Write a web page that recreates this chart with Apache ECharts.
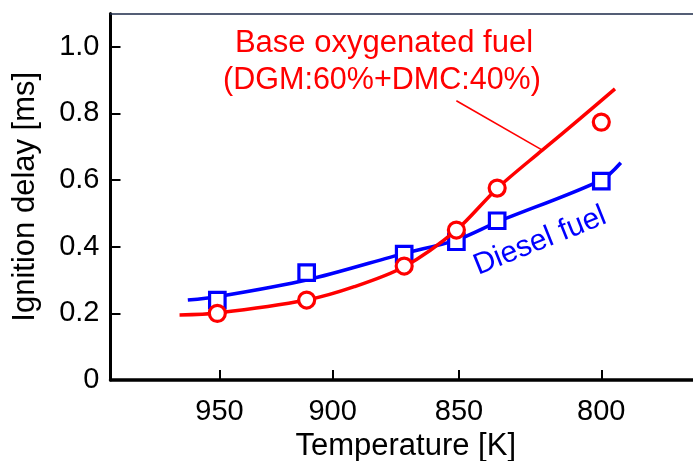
<!DOCTYPE html>
<html>
<head>
<meta charset="utf-8">
<script src="https://cdn.jsdelivr.net/npm/echarts@6/dist/echarts.min.js"></script>
<style>
  html, body { margin: 0; padding: 0; background: #fff; }
  #chart { width: 693px; height: 461px; }
</style>
</head>
<body>
<div id="chart"></div>
<script>
// Temperature ticks shown on the (reciprocal) temperature axis
const tempTicks = [950, 900, 850, 800];
const delayTicks = [0, 0.2, 0.4, 0.6, 0.8, 1.0];

// Measured points: Base oxygenated fuel (DGM 60% + DMC 40%)
const oxyTemps = [951, 911, 871, 851, 836, 800];
const oxyDelay = [0.200, 0.240, 0.342, 0.450, 0.576, 0.774];

// Measured points: Diesel fuel
const dieselTemps = [951, 911, 871, 851, 836, 800];
const dieselDelay = [0.240, 0.322, 0.378, 0.415, 0.478, 0.597];

// Fitted trend curve: oxygenated fuel
const oxyCurveTemps = [969, 951, 911, 891, 871, 851, 836, 820, 807, 795.5];
const oxyCurveDelay = [0.195, 0.201, 0.240, 0.280, 0.340, 0.450, 0.575, 0.690, 0.785, 0.874];

// Fitted trend curve: diesel fuel
const dieselCurveTemps = [965, 951, 911, 871, 851, 836, 800, 793.6];
const dieselCurveDelay = [0.240, 0.250, 0.300, 0.380, 0.420, 0.474, 0.600, 0.652];

// Leader line from the annotation to the oxygenated-fuel curve
const leaderTemps = [851, 820];
const leaderDelay = [0.838, 0.690];

const RED = '#ff0000';
const BLUE = '#0000ff';
const FONT = '"Liberation Sans", Arial, sans-serif';

// The horizontal axis is plotted as 1000/T, labelled in kelvin
const inv = t => 1000 / t;
const pairs = (ts, vs) => ts.map((t, i) => [inv(t), vs[i]]);

const xMin = 0.9963, xMax = 1.2974;

const chart = echarts.init(document.getElementById('chart'), null, { renderer: 'canvas' });

chart.setOption({
  animation: false,
  backgroundColor: '#ffffff',
  textStyle: { fontFamily: FONT },
  grid: { left: 110.5, right: 0, top: 13.5, bottom: 81, outerBoundsMode: 'none', containLabel: false },
  xAxis: [{
    type: 'value',
    min: xMin, max: xMax,
    name: 'Temperature [K]',
    nameLocation: 'middle',
    nameGap: 49,
    nameTextStyle: { fontSize: 31, color: '#000', fontFamily: FONT, padding: [0, 0, 0, 8] },
    axisLine: { show: true, lineStyle: { color: '#000', width: 3.5 } },
    axisTick: { show: true, inside: true, length: 10, lineStyle: { color: '#000', width: 2 },
                customValues: tempTicks.map(inv) },
    axisLabel: { show: true, fontSize: 29, color: '#000', margin: 17, fontFamily: FONT,
                 customValues: tempTicks.map(inv),
                 formatter: v => String(Math.round(1000 / v)) },
    splitLine: { show: false }
  }, {
    type: 'value',
    position: 'top',
    min: xMin, max: xMax,
    axisLine: { show: true, onZero: false, lineStyle: { color: '#1c2a48', width: 1.5 } },
    axisTick: { show: false },
    axisLabel: { show: false },
    splitLine: { show: false }
  }],
  yAxis: {
    type: 'value',
    min: 0, max: 1.1,
    name: 'Ignition delay [ms]',
    nameLocation: 'middle',
    nameGap: 70,
    nameRotate: 90,
    nameTextStyle: { fontSize: 31, color: '#000', fontFamily: FONT },
    axisLine: { show: true, lineStyle: { color: '#000', width: 3 } },
    axisTick: { show: true, inside: true, length: 10, lineStyle: { color: '#000', width: 2 },
                customValues: delayTicks },
    axisLabel: { show: true, fontSize: 29, color: '#000', margin: 11, fontFamily: FONT,
                 customValues: delayTicks,
                 formatter: v => (v === 0 ? '0' : v.toFixed(1)) },
    splitLine: { show: false }
  },
  series: [
    {
      name: 'Diesel fuel curve',
      type: 'line',
      data: pairs(dieselCurveTemps, dieselCurveDelay),
      smooth: 0.3,
      symbol: 'none',
      lineStyle: { color: BLUE, width: 3.5 },
      z: 2
    },
    {
      name: 'Diesel fuel',
      type: 'scatter',
      data: pairs(dieselTemps, dieselDelay),
      symbol: 'rect',
      symbolSize: 15.5,
      itemStyle: { color: '#fff', borderColor: BLUE, borderWidth: 3.2, opacity: 1 },
      z: 3
    },
    {
      name: 'Base oxygenated fuel curve',
      type: 'line',
      data: pairs(oxyCurveTemps, oxyCurveDelay),
      smooth: 0.3,
      symbol: 'none',
      lineStyle: { color: RED, width: 3.5 },
      z: 4,
      markLine: {
        silent: true,
        symbol: 'none',
        label: { show: false },
        lineStyle: { color: RED, width: 1.6, type: 'solid' },
        data: [[
          { coord: [inv(leaderTemps[0]), leaderDelay[0]] },
          { coord: [inv(leaderTemps[1]), leaderDelay[1]] }
        ]]
      }
    },
    {
      name: 'Base oxygenated fuel',
      type: 'scatter',
      data: pairs(oxyTemps, oxyDelay),
      symbol: 'circle',
      symbolSize: 16,
      itemStyle: { color: '#fff', borderColor: RED, borderWidth: 3.2, opacity: 1 },
      z: 5
    }
  ],
  graphic: [
    {
      type: 'text', z: 10,
      x: 384, y: 43,
      style: { text: 'Base oxygenated fuel', fill: RED, font: '31px ' + FONT,
               textAlign: 'center', textVerticalAlign: 'middle' }
    },
    {
      type: 'text', z: 10,
      x: 382, y: 81,
      style: { text: '(DGM:60%+DMC:40%)', fill: RED, font: '30.5px ' + FONT,
               textAlign: 'center', textVerticalAlign: 'middle' }
    },
    {
      type: 'text', z: 10,
      x: 540, y: 241,
      rotation: 22 * Math.PI / 180,
      style: { text: 'Diesel fuel', fill: BLUE, font: '30px ' + FONT,
               textAlign: 'center', textVerticalAlign: 'middle' }
    }
  ]
});
</script>
</body>
</html>
